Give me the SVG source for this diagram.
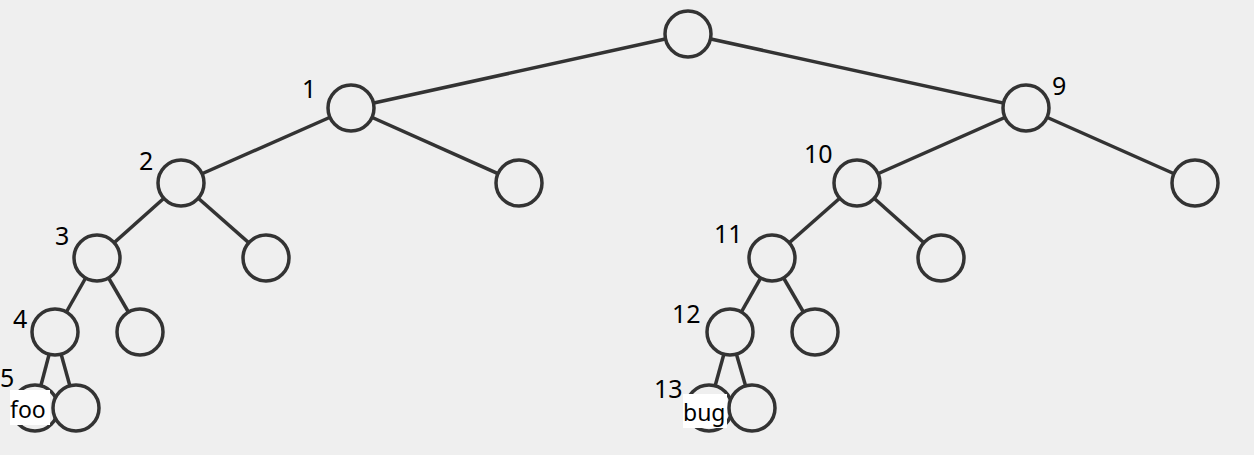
<svg xmlns="http://www.w3.org/2000/svg" width="1254" height="455" viewBox="0 0 1254 455">
<style>
.e{stroke:#333;stroke-width:3.5;fill:none}
.n{fill:#efefef;stroke:#333;stroke-width:3.5}
.l{font-family:"Noto Sans",sans-serif;font-size:25px;fill:#000}
.t{font-family:"Noto Sans",sans-serif;font-size:23px;fill:#000}
</style>
<rect width="1254" height="455" fill="#efefef"/>
<g id="connectors">
<line class="e" x1="688" y1="34" x2="351" y2="108"/>
<line class="e" x1="688" y1="34" x2="1026" y2="108"/>
<line class="e" x1="351" y1="108" x2="181" y2="183"/>
<line class="e" x1="351" y1="108" x2="519" y2="183"/>
<line class="e" x1="181" y1="183" x2="97" y2="258"/>
<line class="e" x1="181" y1="183" x2="266" y2="258"/>
<line class="e" x1="97" y1="258" x2="55" y2="332"/>
<line class="e" x1="97" y1="258" x2="140" y2="332"/>
<line class="e" x1="55" y1="332" x2="35" y2="408"/>
<line class="e" x1="55" y1="332" x2="76" y2="408"/>
<line class="e" x1="1026" y1="108" x2="857" y2="183"/>
<line class="e" x1="1026" y1="108" x2="1195" y2="183"/>
<line class="e" x1="857" y1="183" x2="772" y2="258"/>
<line class="e" x1="857" y1="183" x2="941" y2="258"/>
<line class="e" x1="772" y1="258" x2="730" y2="332"/>
<line class="e" x1="772" y1="258" x2="815" y2="332"/>
<line class="e" x1="730" y1="332" x2="709" y2="408"/>
<line class="e" x1="730" y1="332" x2="752" y2="408"/>
</g>
<g id="root"><circle class="n" cx="688" cy="34" r="23"/></g>
<g id="n1"><circle class="n" cx="351" cy="108" r="23"/><text class="l" x="302" y="98">1</text></g>
<g id="n9"><circle class="n" cx="1026" cy="108" r="23"/><text class="l" x="1052" y="95">9</text></g>
<g id="n2"><circle class="n" cx="181" cy="183" r="23"/><text class="l" x="139" y="170">2</text></g>
<g id="n1r"><circle class="n" cx="519" cy="183" r="23"/></g>
<g id="n10"><circle class="n" cx="857" cy="183" r="23"/><text class="l" x="804" y="163">10</text></g>
<g id="n9r"><circle class="n" cx="1195" cy="183" r="23"/></g>
<g id="n3"><circle class="n" cx="97" cy="258" r="23"/><text class="l" x="55" y="245">3</text></g>
<g id="n2r"><circle class="n" cx="266" cy="258" r="23"/></g>
<g id="n11"><circle class="n" cx="772" cy="258" r="23"/><text class="l" x="714" y="243">11</text></g>
<g id="n10r"><circle class="n" cx="941" cy="258" r="23"/></g>
<g id="n4"><circle class="n" cx="55" cy="332" r="23"/><text class="l" x="13" y="328">4</text></g>
<g id="n3r"><circle class="n" cx="140" cy="332" r="23"/></g>
<g id="n12"><circle class="n" cx="730" cy="332" r="23"/><text class="l" x="672" y="323">12</text></g>
<g id="n11r"><circle class="n" cx="815" cy="332" r="23"/></g>
<g id="n5"><circle class="n" cx="35" cy="408" r="23"/><text class="l" x="0" y="387">5</text><rect x="10" y="390" width="40" height="35" fill="#fff"/><text class="t" x="10" y="418">foo</text></g>
<g id="n4r"><circle class="n" cx="76" cy="408" r="23"/></g>
<g id="n13"><circle class="n" cx="709" cy="408" r="23"/><text class="l" x="654" y="398">13</text><rect x="683" y="394" width="44" height="34" fill="#fff"/><text class="t" x="683" y="421">bug</text></g>
<g id="n12r"><circle class="n" cx="752" cy="408" r="23"/></g>
</svg>
